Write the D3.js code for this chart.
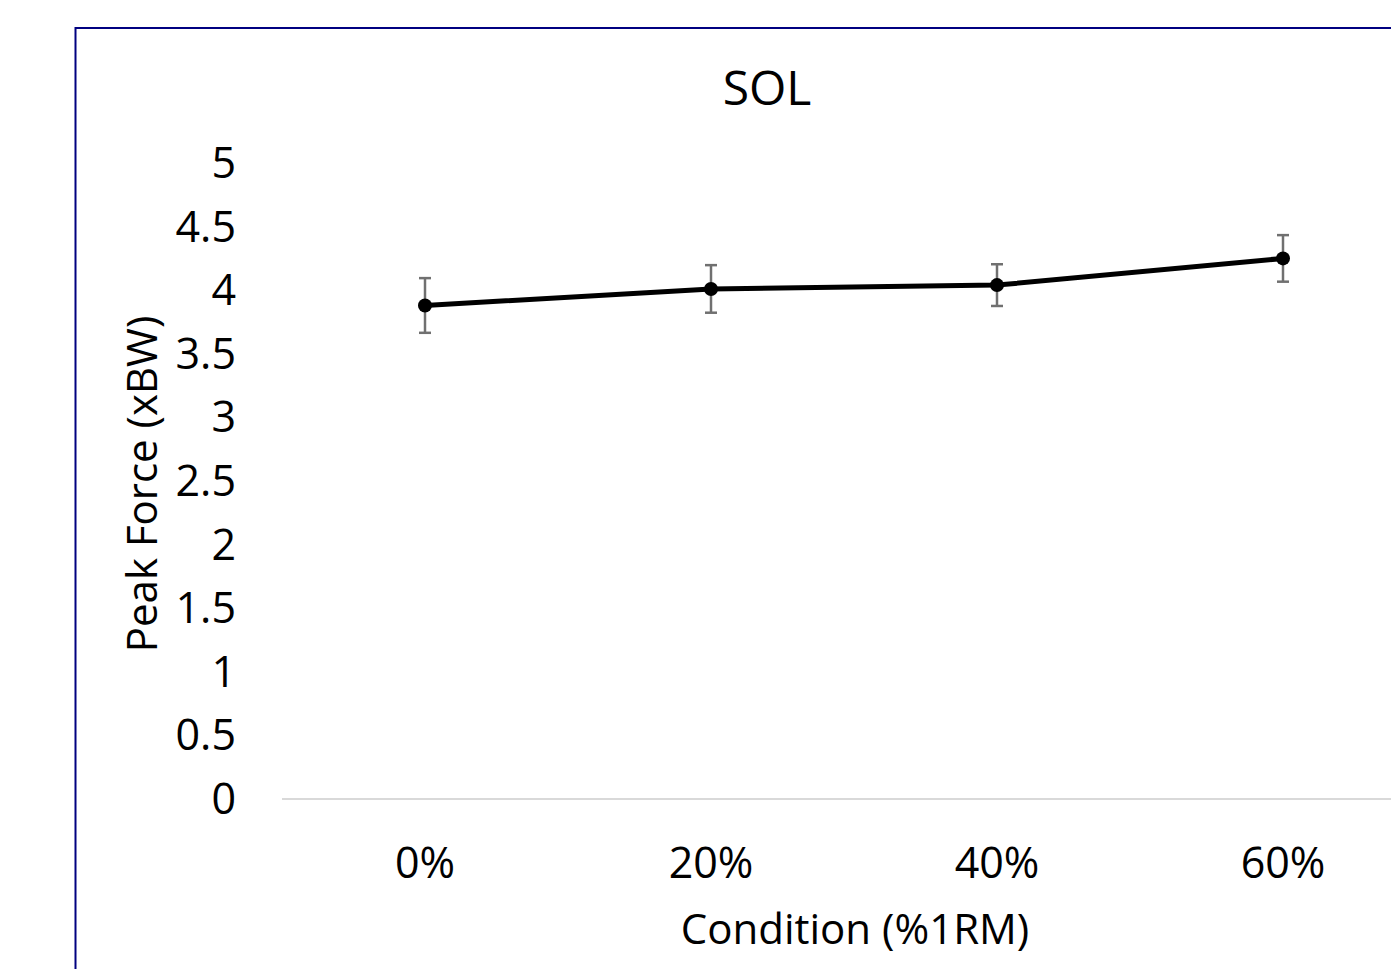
<!DOCTYPE html>
<html>
<head>
<meta charset="utf-8">
<script src="https://cdn.jsdelivr.net/npm/d3@7"></script>
<style>
  html, body { margin: 0; padding: 0; background: #fff; }
  svg { display: block; }
  text { font-family: "Open Sans", sans-serif; fill: #000; }
</style>
</head>
<body>
<svg id="chart" width="1391" height="969"></svg>
<script>
// data
const categories = ["0%", "20%", "40%", "60%"];
const peakForce = [3.88, 4.01, 4.04, 4.25];
const errorSize = [0.215, 0.187, 0.164, 0.183];
const yTicks = [0, 0.5, 1, 1.5, 2, 2.5, 3, 3.5, 4, 4.5, 5];

const svg = d3.select("#chart");
const tickFS = 43;
const axisTitleFS = 42;
const titleFS = 48;

// chart area frame (runs past the right and bottom edges)
svg.append("rect")
  .attr("x", 75.5).attr("y", 28)
  .attr("width", 1400).attr("height", 1000)
  .attr("fill", "#fff")
  .attr("stroke", "#000080")
  .attr("stroke-width", 2);

const plot = { left: 282, right: 282 + 286 * 4, top: 163, bottom: 799 };

const x = d3.scaleBand()
  .domain(categories)
  .range([plot.left, plot.right]);

const y = d3.scaleLinear()
  .domain([0, 5])
  .range([plot.bottom, plot.top]);

// baseline
svg.append("line")
  .attr("x1", plot.left).attr("x2", plot.right)
  .attr("y1", y(0)).attr("y2", y(0))
  .attr("stroke", "#d9d9d9")
  .attr("stroke-width", 2);

// y tick labels
const yAxis = d3.axisLeft(y).tickValues(yTicks).tickSize(0).tickPadding(0)
  .tickFormat(d3.format("~g"));
const gy = svg.append("g")
  .attr("transform", `translate(236,-2)`)
  .call(yAxis);
gy.select(".domain").remove();
gy.selectAll("text")
  .attr("dy", null)
  .attr("dominant-baseline", "central")
  .style("font-family", "'Open Sans', sans-serif")
  .style("font-size", tickFS + "px")
  .attr("fill", "#000");

// x tick labels
const xAxis = d3.axisBottom(x).tickSize(0).tickPadding(0);
const gx = svg.append("g")
  .attr("transform", `translate(0,${y(0)})`)
  .call(xAxis);
gx.select(".domain").remove();
gx.selectAll("text")
  .attr("y", 62)
  .attr("dy", null)
  .attr("dominant-baseline", "central")
  .style("font-family", "'Open Sans', sans-serif")
  .style("font-size", tickFS + "px")
  .attr("fill", "#000");

const cx = (d) => x(d) + x.bandwidth() / 2;

// line
const rows = categories.map((c, i) => ({ c, v: peakForce[i], e: errorSize[i] }));
svg.append("path")
  .datum(rows)
  .attr("fill", "none")
  .attr("stroke", "#000")
  .attr("stroke-width", 5)
  .attr("stroke-linejoin", "round")
  .attr("d", d3.line().x((d) => cx(d.c)).y((d) => y(d.v)));

// error bars
const eb = svg.append("g").attr("stroke", "#707070").attr("stroke-width", 2.5);
rows.forEach((d) => {
  const xc = cx(d.c);
  eb.append("line").attr("x1", xc).attr("x2", xc)
    .attr("y1", y(d.v + d.e)).attr("y2", y(d.v - d.e));
  eb.append("line").attr("x1", xc - 6).attr("x2", xc + 6)
    .attr("y1", y(d.v + d.e)).attr("y2", y(d.v + d.e));
  eb.append("line").attr("x1", xc - 6).attr("x2", xc + 6)
    .attr("y1", y(d.v - d.e)).attr("y2", y(d.v - d.e));
});

// markers
svg.append("g")
  .selectAll("circle")
  .data(rows)
  .join("circle")
  .attr("cx", (d) => cx(d.c))
  .attr("cy", (d) => y(d.v))
  .attr("r", 7)
  .attr("fill", "#000");

// title
svg.append("text")
  .attr("x", 767).attr("y", 86)
  .attr("text-anchor", "middle")
  .attr("dominant-baseline", "central")
  .style("font-size", titleFS + "px")
  .text("SOL");

// axis titles
svg.append("text")
  .attr("x", 855).attr("y", 927)
  .attr("text-anchor", "middle")
  .attr("dominant-baseline", "central")
  .style("font-size", axisTitleFS + "px")
  .text("Condition (%1RM)");

svg.append("text")
  .attr("transform", "translate(140,484) rotate(-90)")
  .attr("text-anchor", "middle")
  .attr("dominant-baseline", "central")
  .style("font-size", axisTitleFS + "px")
  .text("Peak Force (xBW)");
</script>
</body>
</html>
